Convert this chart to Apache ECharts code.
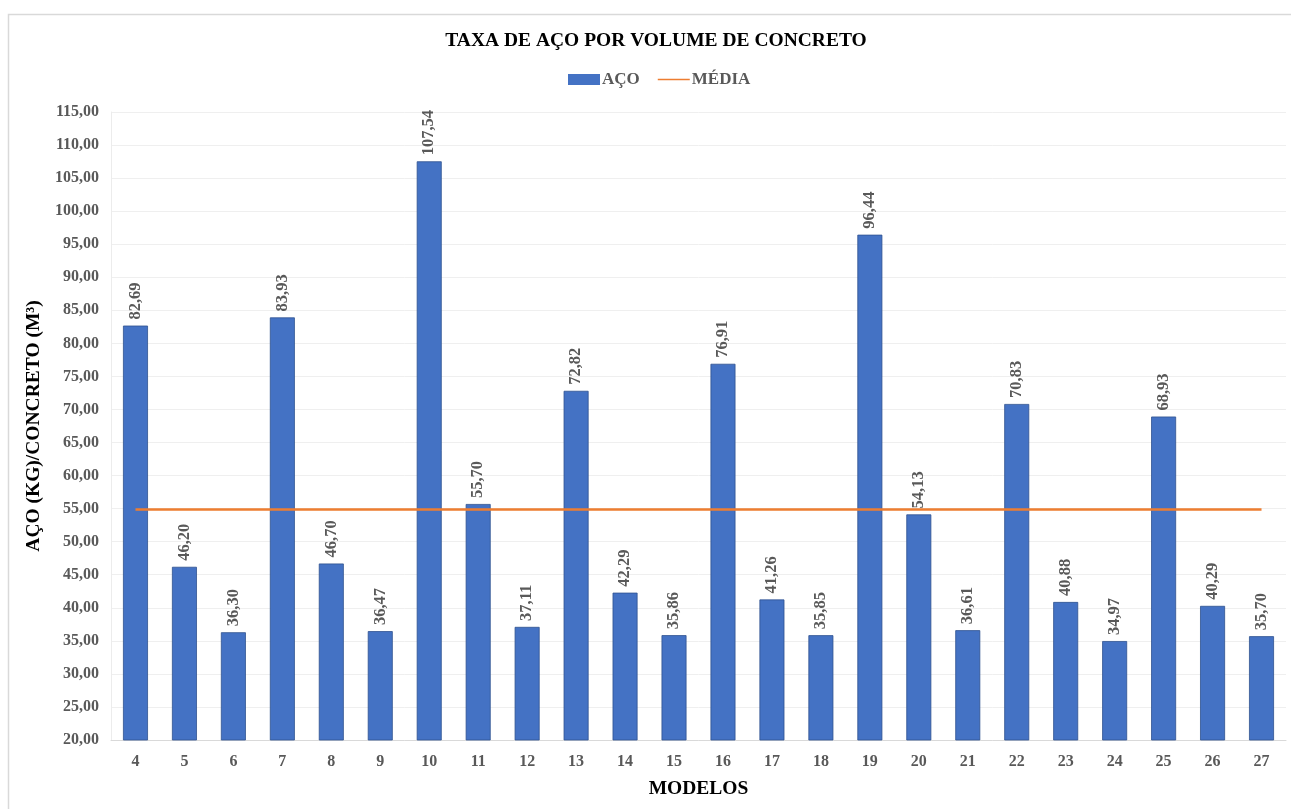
<!DOCTYPE html>
<html>
<head>
<meta charset="utf-8">
<script src="https://cdn.jsdelivr.net/npm/echarts@6/dist/echarts.min.js"></script>
<style>
  html, body { margin: 0; padding: 0; background: #ffffff; }
  #chart { width: 1291px; height: 809px; }
</style>
</head>
<body>
<div id="chart"></div>
<script>
// Modelos analisados
const modelos = ['4','5','6','7','8','9','10','11','12','13','14','15','16','17','18','19','20','21','22','23','24','25','26','27'];
// Taxa de aço (kg) por m³ de concreto
const aco = [82.69, 46.20, 36.30, 83.93, 46.70, 36.47, 107.54, 55.70, 37.11, 72.82, 42.29, 35.86, 76.91, 41.26, 35.85, 96.44, 54.13, 36.61, 70.83, 40.88, 34.97, 68.93, 40.29, 35.70];
// Média geral da taxa
const media = 54.85;
const mediaSerie = modelos.map(() => media);

const fmt = v => v.toFixed(2).replace('.', ',');
const serif = '"Liberation Serif", "Times New Roman", serif';

const chart = echarts.init(document.getElementById('chart'), null, { renderer: 'canvas' });
chart.setOption({
  animation: false,
  backgroundColor: '#ffffff',
  textStyle: { fontFamily: serif },
  graphic: [{
    type: 'rect',
    shape: { x: 8.5, y: 14.5, width: 1400, height: 900 },
    style: { fill: 'none', stroke: '#d9d9d9', lineWidth: 1.5 },
    silent: true
  }],
  title: {
    text: 'TAXA DE AÇO POR VOLUME DE CONCRETO',
    left: 651, top: 26, textAlign: 'center',
    textStyle: { fontFamily: serif, fontWeight: 'bold', fontSize: 19.5, color: '#000000' }
  },
  legend: {
    top: 66, left: 563,
    itemGap: 18, itemWidth: 32, itemHeight: 11,
    textStyle: { fontFamily: serif, fontWeight: 'bold', fontSize: 17, color: '#595959', padding: [0, 0, 0, -3] },
    data: [
      { name: 'AÇO', icon: 'rect', itemStyle: { borderWidth: 0 } },
      { name: 'MÉDIA', icon: 'path://M0,4.2 L34,4.2 L34,6 L0,6 Z', itemStyle: { color: '#ED7D31', borderWidth: 0 } }
    ]
  },
  grid: { left: 111, right: 5, top: 112, bottom: 69, containLabel: false },
  xAxis: {
    type: 'category',
    data: modelos,
    name: 'MODELOS',
    nameLocation: 'middle',
    nameGap: 39,
    nameTextStyle: { fontFamily: serif, fontWeight: 'bold', fontSize: 19.5, color: '#000000' },
    axisLine: { lineStyle: { color: '#d9d9d9', width: 1 } },
    axisTick: { show: false },
    axisLabel: { fontFamily: serif, fontWeight: 'bold', fontSize: 16, color: '#595959', margin: 14 }
  },
  yAxis: {
    type: 'value',
    min: 20, max: 115, interval: 5,
    name: 'AÇO (KG)/CONCRETO (M³)',
    nameLocation: 'middle',
    nameGap: 55,
    nameRotate: 90,
    nameTextStyle: { fontFamily: serif, fontWeight: 'bold', fontSize: 19.5, color: '#000000' },
    axisLine: { show: true, lineStyle: { color: '#ececec' } },
    axisTick: { show: false },
    splitLine: { lineStyle: { color: '#efefef', width: 1 } },
    axisLabel: { formatter: fmt, fontFamily: serif, fontWeight: 'bold', fontSize: 16, color: '#595959', margin: 12, padding: [3, 0, 0, 0] }
  },
  series: [
    {
      name: 'AÇO',
      type: 'bar',
      data: aco,
      barWidth: '51%',
      itemStyle: { color: '#4472C4', borderColor: '#2F528F', borderWidth: 0.8 },
      label: {
        show: true,
        position: 'top',
        rotate: 90,
        align: 'left',
        verticalAlign: 'middle',
        distance: 6,
        formatter: p => fmt(p.value),
        fontFamily: serif, fontWeight: 'bold', fontSize: 16.5, color: '#595959'
      },
      z: 2
    },
    {
      name: 'MÉDIA',
      type: 'line',
      data: mediaSerie,
      symbol: 'none',
      lineStyle: { color: '#ED7D31', width: 2.5 },
      itemStyle: { color: '#ED7D31' },
      z: 3
    }
  ]
});
</script>
</body>
</html>
